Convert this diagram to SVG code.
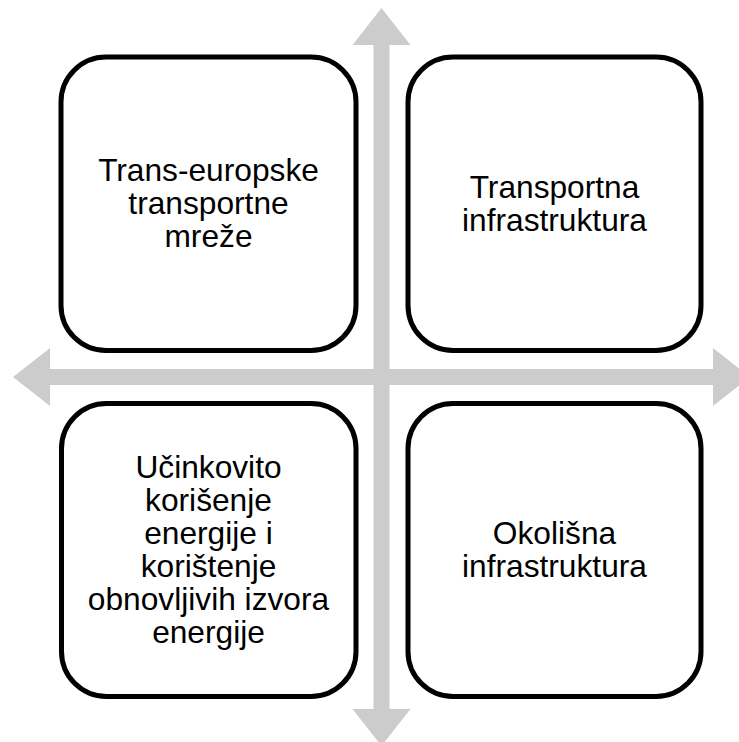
<svg xmlns="http://www.w3.org/2000/svg" width="739" height="742" viewBox="0 0 739 742">
<style>
.box{fill:#ffffff;stroke:#000000;stroke-width:5}
.lbl{font-family:"Liberation Sans",Arial,sans-serif;font-size:31.7px;fill:#000000;text-anchor:middle}
.arr{fill:#cccccc;stroke:none}
</style>
<rect width="739" height="742" fill="#ffffff"/>
<g id="connectors">
<polygon class="arr" points="381.5,8 410.5,45 389.5,45 389.5,369 713,369 713,348 750,377 713,406 713,385 389.5,385 389.5,709 410.5,709 381.5,746 352.5,709 373.5,709 373.5,385 50,385 50,406 13,377 50,348 50,369 373.5,369 373.5,45 352.5,45"/>
</g>
<g id="node-tl">
<rect class="box" x="61" y="57" width="295" height="293.5" rx="45" ry="45"/>
<text class="lbl"><tspan x="208.5" y="181">Trans-europske</tspan><tspan x="208.5" y="214">transportne</tspan><tspan x="208.5" y="247">mreže</tspan></text>
</g>
<g id="node-tr">
<rect class="box" x="408" y="57" width="293" height="293.5" rx="45" ry="45"/>
<text class="lbl"><tspan x="554.5" y="197.5">Transportna</tspan><tspan x="554.5" y="230.5">infrastruktura</tspan></text>
</g>
<g id="node-bl">
<rect class="box" x="61.5" y="403.5" width="294.5" height="293" rx="45" ry="45"/>
<text class="lbl"><tspan x="208.5" y="478">Učinkovito</tspan><tspan x="208.5" y="511">korišenje</tspan><tspan x="208.5" y="544">energije i</tspan><tspan x="208.5" y="577">korištenje</tspan><tspan x="208.5" y="610">obnovljivih izvora</tspan><tspan x="208.5" y="643">energije</tspan></text>
</g>
<g id="node-br">
<rect class="box" x="408" y="403.5" width="293" height="293" rx="45" ry="45"/>
<text class="lbl"><tspan x="554.5" y="544">Okolišna</tspan><tspan x="554.5" y="577">infrastruktura</tspan></text>
</g>
</svg>
